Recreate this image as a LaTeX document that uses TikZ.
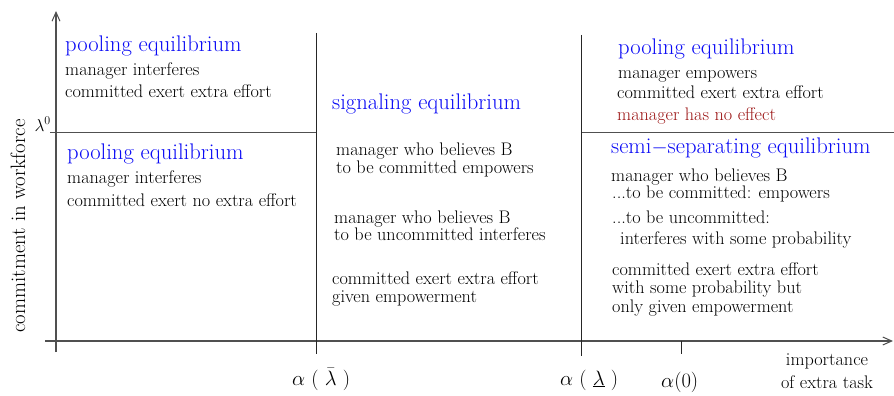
\documentclass[tikz,border=0pt]{standalone}
\usepackage{fontspec}
\usetikzlibrary{arrows.meta}
\definecolor{hd}{RGB}{10,10,245}
\definecolor{dred}{RGB}{155,20,20}
\definecolor{axc}{RGB}{80,80,80}
\definecolor{txt}{RGB}{0,0,0}
\begin{document}
\begin{tikzpicture}[x=1pt,y=-1pt,
  body/.style={anchor=base west, inner sep=0pt, text=txt, font=\fontsize{18.2}{21}\selectfont},
  head/.style={anchor=base west, inner sep=0pt, text=hd, font=\fontsize{22.6}{26}\selectfont},
  note/.style={anchor=base west, inner sep=0pt, text=dred, font=\fontsize{18.2}{21}\selectfont},
  lab/.style={anchor=base west, inner sep=0pt, text=txt, font=\fontsize{20.5}{24}\selectfont},
  axisline/.style={draw=axc, line width=1.3pt},
  divline/.style={draw=black!85, line width=1.2pt},
  tip/.style={-{Straight Barb[length=9pt,width=8pt,line width=1pt]}}]
\useasboundingbox (0,0) rectangle (894,396);
% coordinates
\coordinate (ybot) at (56,352);
\coordinate (ytop) at (56,11);
\coordinate (xl) at (45,341);
\coordinate (xr) at (893,341);
\coordinate (hl1) at (50,132.5);
\coordinate (hr1) at (316.5,132.5);
\coordinate (hl2) at (581.7,132.5);
\coordinate (hr2) at (894,132.5);
\coordinate (v1t) at (316.5,33);
\coordinate (v1b) at (316.5,354);
\coordinate (v2t) at (581.7,35);
\coordinate (v2b) at (581.7,356);
\coordinate (tkt) at (681.7,341);
\coordinate (tkb) at (681.7,354);
% axes and lines
\draw[axisline,tip] (ybot) -- (ytop);
\draw[axisline,tip] (xl) -- (xr);
\draw[axisline] (hl1) -- (hr1);
\draw[axisline] (hl2) -- (hr2);
\draw[divline] (v1t) -- (v1b);
\draw[divline] (v2t) -- (v2b);
\draw[divline] (tkt) -- (tkb);
% left column
\node[head] (a1) at (65,52) {pooling equilibrium};
\node[body] (a2) at (65,75) {manager interferes};
\node[body] (a3) at (65,97) {committed exert extra effort};
\node[head] (b1) at (67,159) {pooling equilibrium};
\node[body] (b2) at (67,183) {manager interferes};
\node[body] (b3) at (67,206) {committed exert no extra effort};
% middle column
\node[head] (c1) at (332,110) {signaling equilibrium};
\node[body] (c2) at (336,155) {manager who believes B};
\node[body] (c3) at (336,173) {to be committed empowers};
\node[body] (c4) at (334,223) {manager who believes B};
\node[body] (c5) at (334,240) {to be uncommitted interferes};
\node[body] (c6) at (332,284) {committed exert extra effort};
\node[body] (c7) at (332,302) {given empowerment};
% right column
\node[head] (d1) at (618,55) {pooling equilibrium};
\node[body] (d2) at (618,78) {manager empowers};
\node[body] (d3) at (617,99) {committed exert extra effort};
\node[note] (d4) at (617,120) {manager has no effect};
\node[head] (e1) at (611,153) {semi$-$separating equilibrium};
\node[body] (e2) at (611,181.5) {manager who believes B};
\node[body] (e3) at (612,198.5) {...to be committed: empowers};
\node[body] (e4) at (612,223) {...to be uncommitted:};
\node[body] (e5) at (620,244) {interferes with some probability};
\node[body] (e6) at (612,275) {committed exert extra effort};
\node[body] (e7) at (612,293) {with some probability but};
\node[body] (e8) at (612,312) {only given empowerment};
% axis labels
\node[lab] (l1) at (292,385) {$\alpha$ ( $\bar{\lambda}$ )};
\node[lab] (l2) at (560,385) {$\alpha$ ( $\underline{\lambda}$ )};
\node[lab] (l3) at (661,387) {$\alpha$(0)};
\node[body, anchor=base] (x1) at (827,365) {importance};
\node[body, anchor=base] (x2) at (827,388) {of extra task};
\node[body, anchor=base east, font=\fontsize{18}{22}\selectfont] (lam) at (51,131) {$\lambda^{0}$};
\node[body, anchor=base, rotate=90, font=\fontsize{20.8}{24}\selectfont] (ylab) at (25,226) {commitment in workforce};
\end{tikzpicture}
\end{document}
